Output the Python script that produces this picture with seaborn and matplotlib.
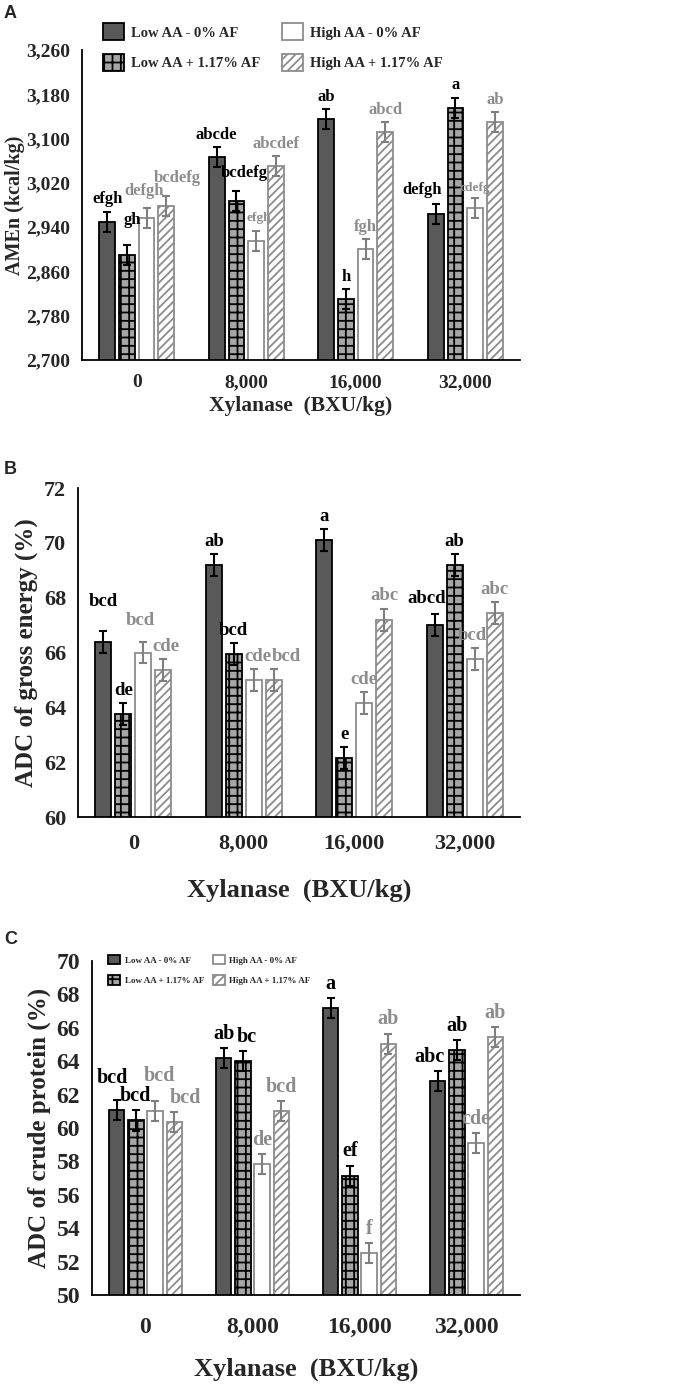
#!/usr/bin/env python
"""Three-panel bar chart: AMEn, ADC of gross energy and ADC of crude
protein vs xylanase dose for the four AA / AF diets.
"""
import matplotlib
matplotlib.use('Agg')
import matplotlib.pyplot as plt
import matplotlib.patches as mpatches
import seaborn as sb
import pandas as pd
import numpy as np


# categories
xylanase = ['0', '8,000', '16,000', '32,000']
treatments = ['Low AA - 0% AF', 'Low AA + 1.17% AF',
              'High AA - 0% AF', 'High AA + 1.17% AF']

# panel A: AMEn (kcal/kg), one list per treatment, in xylanase order
amen_low0 = [2950, 3067, 3135, 2963]
amen_lowaf = [2890, 2988, 2810, 3156]
amen_high0 = [2956, 2915, 2900, 2974]
amen_highaf = [2979, 3051, 3112, 3130]
amen_err = [18, 18, 18, 18]
amen_letters = [['efgh', 'abcde', 'ab', 'defgh'],
                ['gh', 'bcdefg', 'h', 'a'],
                ['defgh', 'efgh', 'fgh', 'cdefg'],
                ['bcdefg', 'abcdef', 'abcd', 'ab']]

# panel B: ADC of gross energy (%)
ge_low0 = [66.4, 69.2, 70.1, 67.0]
ge_lowaf = [63.75, 65.95, 62.15, 69.2]
ge_high0 = [66.0, 65.0, 64.15, 65.75]
ge_highaf = [65.35, 65.0, 67.2, 67.45]
ge_err = [0.4, 0.4, 0.4, 0.4]
ge_letters = [['bcd', 'ab', 'a', 'abcd'],
              ['de', 'bcd', 'e', 'ab'],
              ['bcd', 'cde', 'cde', 'bcd'],
              ['cde', 'bcd', 'abc', 'abc']]

# panel C: ADC of crude protein (%)
cp_low0 = [61.05, 64.2, 67.2, 62.8]
cp_lowaf = [60.45, 64.0, 57.15, 64.65]
cp_high0 = [61.0, 57.85, 52.5, 59.1]
cp_highaf = [60.35, 61.0, 65.05, 65.45]
cp_err = [0.6, 0.6, 0.6, 0.6]
cp_letters = [['bcd', 'ab', 'a', 'abc'],
              ['bcd', 'bc', 'ef', 'ab'],
              ['bcd', 'de', 'f', 'cde'],
              ['bcd', 'bcd', 'ab', 'ab']]

# bar styling per treatment
face_colors = ['#595959', '#a6a6a6', 'white', 'white']
edge_colors = ['black', 'black', '#8c8c8c', '#8c8c8c']
err_colors = ['black', 'black', '#7f7f7f', '#7f7f7f']
hatches = [None, '++', None, '////']
text_colors = ['black', 'black', '#8c8c8c', '#8c8c8c']
serif = 'Liberation Serif'

# letter placement tweaks (treatment, dose) -> (dx, dy) in points
nudge_a = {(1, 0): (4, 9), (2, 0): (-2, 4), (3, 0): (8, 4),
           (1, 1): (6, 4), (2, 1): (2, 2), (0, 3): (-10, 2)}
nudge_b = {(0, 0): (0, 12), (2, 0): (-2, 6), (3, 0): (2, 0),
           (2, 1): (3, 0), (3, 1): (9, 0), (3, 2): (0, 0),
           (0, 3): (-6, 2), (2, 3): (-2, 0)}
nudge_c = {(0, 0): (-3, 6), (2, 0): (3, 8), (3, 0): (8, 0),
           (1, 1): (3, 0), (0, 3): (-6, 0)}
small_a = {(2, 1), (2, 3)}


def make_frame(series):
    """Long form table from the four treatment lists."""
    rows = []
    for trt, vals in zip(treatments, series):
        for x, v in zip(xylanase, vals):
            rows.append({'xyl': x, 'trt': trt, 'value': v})
    return pd.DataFrame(rows)


def draw_panel(ax, series, err, letters, ylim, yticks, ytick_fmt,
               ylabel, tick_size, label_size, letter_size, nudge,
               small=(), xpad=10, labelpad=6):
    df = make_frame(series)
    sb.barplot(data=df, x='xyl', y='value', hue='trt',
               order=xylanase, hue_order=treatments,
               width=0.72, gap=0.2, errorbar=None, legend=False,
               palette=['#595959'] * 4, ax=ax)

    bar_groups = list(ax.containers)
    for i, container in enumerate(bar_groups):
        for j, bar in enumerate(container.patches):
            bar.set_facecolor(face_colors[i])
            bar.set_edgecolor(edge_colors[i])
            bar.set_linewidth(1.3)
            if hatches[i]:
                bar.set_hatch(hatches[i])
            xc = bar.get_x() + bar.get_width() / 2
            top = bar.get_height()
            ax.errorbar(xc, top, yerr=err[i], color=err_colors[i],
                        capsize=3, elinewidth=1.5, capthick=1.5, zorder=5)
            dx, dy = nudge.get((i, j), (0, 0))
            size = letter_size * (0.8 if (i, j) in small else 1.0)
            ax.annotate(letters[i][j], (xc, top + err[i]),
                        xytext=(dx, 3 + dy), textcoords='offset points',
                        ha='center', va='bottom', fontsize=size,
                        fontweight='bold', family=serif, color=text_colors[i])

    ax.set_ylim(*ylim)
    ax.set_xlim(-0.5, 3.5)
    ax.set_yticks(yticks)
    ax.set_yticklabels([ytick_fmt(t) for t in yticks], fontsize=tick_size,
                       fontweight='bold', family=serif)
    ax.set_xticks(range(len(xylanase)))
    ax.set_xticklabels(xylanase, fontsize=tick_size, fontweight='bold',
                       family=serif)
    ax.set_xticks(np.arange(-0.5, 4.0, 1.0), minor=True)
    ax.tick_params(axis='x', which='major', length=0, pad=xpad)
    ax.tick_params(axis='x', which='minor', length=7, width=1.3, direction='out')
    ax.tick_params(axis='y', length=5, width=1.3, direction='out')
    ax.set_ylabel(ylabel, fontsize=label_size, fontweight='bold', family=serif)
    ax.set_xlabel('Xylanase  (BXU/kg)', fontsize=label_size + 1,
                  fontweight='bold', family=serif, labelpad=labelpad)
    for s in ['top', 'right']:
        ax.spines[s].set_visible(False)
    for s in ['left', 'bottom']:
        ax.spines[s].set_linewidth(1.3)
        ax.spines[s].set_color('black')


def add_legend(ax, size, anchor, handle_size, colspace, rowspace):
    handles = []
    for i, trt in enumerate(treatments):
        handles.append(mpatches.Patch(facecolor=face_colors[i],
                                      edgecolor=edge_colors[i],
                                      hatch=hatches[i], linewidth=1.3,
                                      label=trt))
    ax.legend(handles=handles, ncol=2, frameon=False, loc='upper left',
              bbox_to_anchor=anchor,
              prop={'family': serif, 'weight': 'bold', 'size': size},
              handlelength=handle_size, handleheight=handle_size,
              columnspacing=colspace, labelspacing=rowspace,
              handletextpad=0.5, borderaxespad=0)


def main():
    sb.set_style('white')
    plt.rcParams['hatch.linewidth'] = 1.3

    fig = plt.figure(figsize=(6.95, 13.84), dpi=100)
    W, H = 695.0, 1384.0

    def rect(left, top, right, bottom):
        return [left / W, 1 - bottom / H, (right - left) / W, (bottom - top) / H]

    ax_a = fig.add_axes(rect(82, 50, 520, 360))
    draw_panel(ax_a, [amen_low0, amen_lowaf, amen_high0, amen_highaf],
               amen_err, amen_letters, (2700, 3260),
               list(range(2700, 3261, 80)), lambda t: f'{t:,}',
               'AMEn (kcal/kg)', 14, 14.5, 12, nudge_a, small_a,
               xpad=10, labelpad=4)
    ax_a.yaxis.set_label_coords(-0.13, 0.5)
    add_legend(ax_a, 10.5, (0.035, 1.105), 1.4, 1.5, 0.95)

    ax_b = fig.add_axes(rect(78, 488, 520, 817))
    draw_panel(ax_b, [ge_low0, ge_lowaf, ge_high0, ge_highaf],
               ge_err, ge_letters, (60, 72), list(range(60, 73, 2)),
               lambda t: f'{t}', 'ADC of gross energy (%)', 16, 18, 13.5,
               nudge_b, xpad=12, labelpad=18)

    ax_c = fig.add_axes(rect(92, 961, 520, 1295))
    draw_panel(ax_c, [cp_low0, cp_lowaf, cp_high0, cp_highaf],
               cp_err, cp_letters, (50, 70), list(range(50, 71, 2)),
               lambda t: f'{t}', 'ADC of crude protein (%)', 17, 18, 14.5,
               nudge_c, xpad=16, labelpad=14)
    add_legend(ax_c, 6.5, (0.03, 1.03), 1.3, 1.0, 1.2)

    for letter, y in [('A', 14), ('B', 470), ('C', 940)]:
        fig.text(4 / W, 1 - y / H, letter, fontsize=13, fontweight='bold',
                 family='Liberation Sans', va='center')

    fig.savefig('out.png', dpi=100)


if __name__ == '__main__':
    main()
